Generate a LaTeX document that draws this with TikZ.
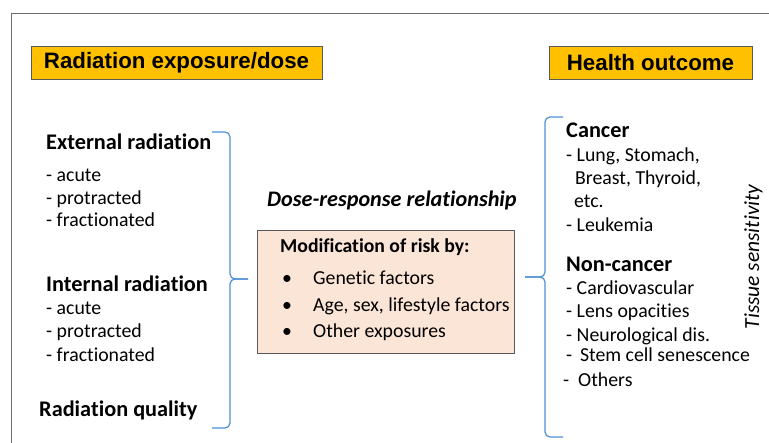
\documentclass[tikz,border=0pt]{standalone}
\usepackage{fontspec}
\setmainfont{Carlito}[Ligatures=NoCommon]
\newfontfamily\arialfont{Liberation Sans}
\usetikzlibrary{positioning}
\definecolor{gold}{HTML}{FFC000}
\definecolor{peach}{HTML}{FBE5D6}
\definecolor{braceblue}{HTML}{4F8FD6}
\definecolor{framegray}{HTML}{6E6E6E}
\tikzset{
  titlebox/.style={draw=black!65, fill=gold, minimum height=33pt, inner xsep=8pt,
                   font=\arialfont\bfseries\fontsize{22.3}{24}\selectfont},
  head/.style={anchor=base west, inner sep=0pt, font=\bfseries\fontsize{22.3}{24}\selectfont},
  item/.style={anchor=base west, inner sep=0pt, font=\fontsize{19.8}{22}\selectfont},
  riskbox/.style={draw=black!65, fill=peach, minimum width=257pt, minimum height=123pt, anchor=north west},
  bracket/.style={draw=braceblue, line width=1.2pt, rounded corners=5pt},
}

\begin{document}
\begin{tikzpicture}[x=1pt, y=-1pt]
\useasboundingbox (0,0) rectangle (769,443);
\draw[framegray, line width=1pt] (769,14) -- (11,14) -- (11,443);

%Titles
\node[titlebox, minimum width=291pt] (dose) at (176.5,62.5) {Radiation exposure/dose};
\node[titlebox, minimum width=203pt] (health) at (650.5,62.5) {Health outcome};

%Exposure side
\node[head] (external) at (46,150) {External radiation};
\node[item] (ext1) at (46,182) {- acute};
\node[item] (ext2) at (46,204.5) {- protracted};
\node[item] (ext3) at (46,227) {- fractionated};
\node[head] (internal) at (46,291.5) {Internal radiation};
\node[item] (int1) at (46,315) {- acute};
\node[item] (int2) at (46,338) {- protracted};
\node[item] (int3) at (46,361.5) {- fractionated};
\node[head] (quality) at (39,416.5) {Radiation quality};

%Middle
\node[head, font=\bfseries\itshape\fontsize{22.2}{24}\selectfont] (doseresp) at (267,207) {Dose-response relationship};
\node[riskbox] (risk) at (257,230) {};
\node[head, font=\bfseries\fontsize{19.7}{22}\selectfont] (modif) at (280,253) {Modification of risk by:};
\node[item] (dot1) at (282,285) {•};
\node[item] (genetic) at (313,285) {Genetic factors};
\node[item] (dot2) at (282,312) {•};
\node[item] (age) at (313,312) {Age, sex, lifestyle factors};
\node[item] (dot3) at (282,338) {•};
\node[item] (other) at (313,338) {Other exposures};

%Outcome side
\node[head] (cancer) at (566,138) {Cancer};
\node[item] (lung) at (566,162) {- Lung, Stomach,};
\node[item] (breast) at (575,185) {Breast, Thyroid,};
\node[item] (etc) at (574,208) {etc.};
\node[item] (leuk) at (566,232) {- Leukemia};
\node[head] (noncancer) at (566,272) {Non-cancer};
\node[item] (cardio) at (566,295) {- Cardiovascular};
\node[item] (lens) at (566,318) {- Lens opacities};
\node[item] (neuro) at (566,342) {- Neurological dis.};
\node[item] (stem) at (566,362) {-\, Stem cell senescence};
\node[item] (others) at (563,387) {-\ \ Others};
\node[item, anchor=base, rotate=90, font=\itshape\fontsize{21.5}{22}\selectfont] (tissue) at (759,257) {Tissue sensitivity};

%Braces
\draw[bracket] (212,132) -- (230,132) -- (230,279) -- (248,279);
\draw[bracket] (212,428) -- (230,428) -- (230,279) -- (248,279);
\draw[bracket] (563,117) -- (545,117) -- (545,277) -- (525,277);
\draw[bracket] (563,437) -- (545,437) -- (545,277) -- (525,277);
\end{tikzpicture}
\end{document}
